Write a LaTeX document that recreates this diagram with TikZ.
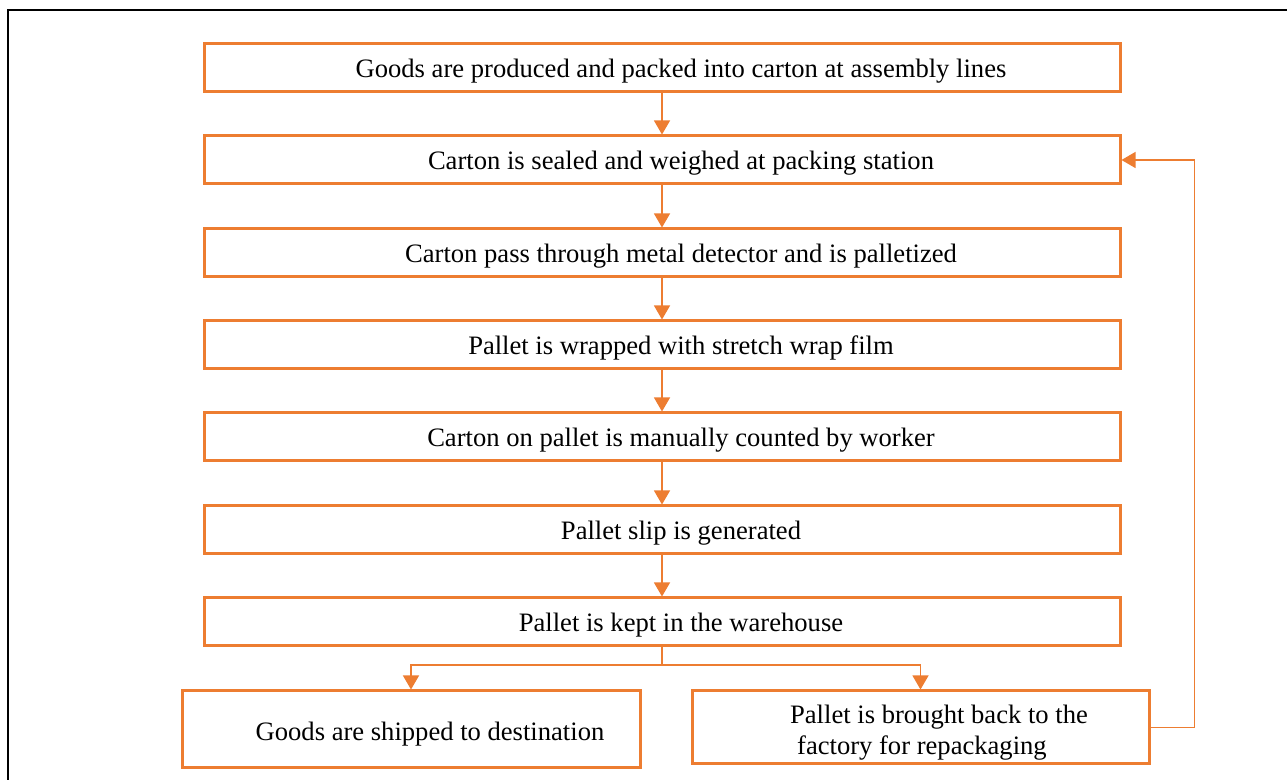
\documentclass[tikz,border=0pt]{standalone}
\usepackage{fontspec}
\setmainfont{Liberation Serif}
\usetikzlibrary{arrows.meta}
\definecolor{orng}{HTML}{ED7D31}
\tikzset{
  box/.style={draw=orng, line width=1.5pt, inner sep=0pt, minimum width=458pt, minimum height=24pt},
  txt/.style={inner sep=0pt, font=\fontsize{13.3}{15.5}\selectfont, align=left},
  arr/.style={draw=orng, line width=0.6pt, -{Triangle[length=7pt,width=8pt]}},
  frame/.style={draw=black, line width=1.1pt}
}
\begin{document}
\begin{tikzpicture}[x=0.5pt,y=-0.5pt]
\useasboundingbox (0,0) rectangle (1287,780);
\draw[frame] (8,780) -- (8,10) -- (1287,10);
\node[box] (b1) at (662,68) {};
\node[box] (b2) at (662,160) {};
\node[box] (b3) at (662,253) {};
\node[box] (b4) at (662,345) {};
\node[box] (b5) at (662,437) {};
\node[box] (b6) at (662,530) {};
\node[box] (b7) at (662,622) {};
\node[box, minimum width=229pt, minimum height=38.5pt] (bl) at (411,729.5) {};
\node[box, minimum width=228.5pt, minimum height=36.5pt] (br) at (920.5,727.5) {};
\node[txt] (t1) at (681,71) {Goods are produced and packed into carton at assembly lines};
\node[txt] (t2) at (681,163) {Carton is sealed and weighed at packing station};
\node[txt] (t3) at (681,256) {Carton pass through metal detector and is palletized};
\node[txt] (t4) at (681,348) {Pallet is wrapped with stretch wrap film};
\node[txt] (t5) at (681,440) {Carton on pallet is manually counted by worker};
\node[txt] (t6) at (681,533) {Pallet slip is generated};
\node[txt] (t7) at (681,625) {Pallet is kept in the warehouse};
\node[txt] (tl) at (430,734) {Goods are shipped to destination};
\node[txt] (tr) at (939,733) {Pallet is brought back to the\\\hspace*{3.5pt}factory for repackaging};
\coordinate (split) at (662,665);
\draw[arr] (b1) -- (b2);
\draw[arr] (b2) -- (b3);
\draw[arr] (b3) -- (b4);
\draw[arr] (b4) -- (b5);
\draw[arr] (b5) -- (b6);
\draw[arr] (b6) -- (b7);
\draw[draw=orng, line width=0.6pt] (b7.south) -- (split);
\draw[arr] (split) -| (bl.north);
\draw[arr] (split) -| (br.north);
\draw[arr] (br.east) -- ++(44,0) |- (b2.east);
\end{tikzpicture}
\end{document}
